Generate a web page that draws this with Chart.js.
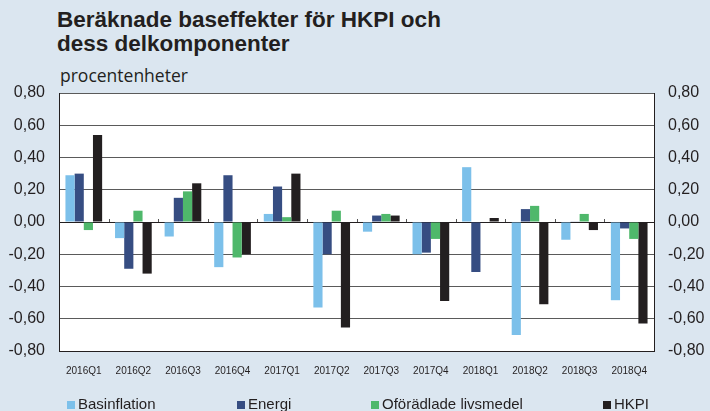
<!DOCTYPE html>
<html>
<head>
<meta charset="utf-8">
<script src="https://cdn.jsdelivr.net/npm/chart.js@4"></script>
<style>
  body { margin: 0; background: #dbe6f0; font-family: "Liberation Sans", Arial, sans-serif; }
  .wrap { position: relative; width: 710px; height: 411px; overflow: hidden; }
  .title { position: absolute; left: 57px; top: 8px; font-weight: bold; font-size: 22.5px; line-height: 24px; color: #231f20; white-space: nowrap; }
  .unit { position: absolute; left: 60px; top: 65px; font-family: "Open Sans", sans-serif; font-size: 17.5px; line-height: 20px; color: #231f20; }
  canvas { position: absolute; left: 0; top: 0; }
  .legend { position: absolute; top: 396px; left: 0; width: 710px; font-size: 15px; line-height: 15px; color: #231f20; }
  .legend span.item { position: absolute; top: 0; white-space: nowrap; }
  .legend i { display: inline-block; width: 8px; height: 8px; margin-right: 3px; vertical-align: baseline; }
</style>
</head>
<body>
<div class="wrap">
  <div class="title">Beräknade baseffekter för HKPI och<br>dess delkomponenter</div>
  <div class="unit">procentenheter</div>
  <canvas id="myChart" width="710" height="411"></canvas>
  <div class="legend" id="legend"></div>
</div>
<script>
const quarters = ["2016Q1", "2016Q2", "2016Q3", "2016Q4", "2017Q1", "2017Q2",
  "2017Q3", "2017Q4", "2018Q1", "2018Q2", "2018Q3", "2018Q4"];

const basinflation = [0.29, -0.10, -0.09, -0.28, 0.05, -0.53, -0.06, -0.20, 0.34, -0.70, -0.11, -0.485];
const energi = [0.30, -0.29, 0.15, 0.29, 0.22, -0.20, 0.04, -0.19, -0.31, 0.08, 0.004, -0.04];
const livsmedel = [-0.05, 0.07, 0.19, -0.22, 0.03, 0.07, 0.05, -0.105, 0.0, 0.10, 0.05, -0.105];
const hkpi = [0.54, -0.32, 0.24, -0.20, 0.30, -0.655, 0.04, -0.49, 0.025, -0.51, -0.05, -0.63];

const seriesNames = ["Basinflation", "Energi", "Oförädlade livsmedel", "HKPI"];
const seriesColors = ["#7cc0ea", "#364d82", "#4fb86b", "#231f20"];
const legendLeft = [67, 237, 371, 603];

const fmt = (v) => v.toFixed(2).replace(".", ",");

// liten tickmarkering vid kategorigränser på nollinjen
const zeroTicks = {
  id: "zeroTicks",
  afterDatasetsDraw(chart) {
    const x = chart.scales.x;
    const y0 = chart.scales.y.getPixelForValue(0);
    const ctx = chart.ctx;
    const step = (x.right - x.left) / quarters.length;
    ctx.save();
    ctx.strokeStyle = "#555";
    ctx.lineWidth = 1;
    ctx.beginPath();
    for (let i = 1; i < quarters.length; i++) {
      const px = Math.round(x.left + step * i) + 0.5;
      ctx.moveTo(px, y0 - 3);
      ctx.lineTo(px, y0);
    }
    ctx.stroke();
    ctx.restore();
  },
};

const whitePlot = {
  id: "whitePlot",
  beforeDraw(chart) {
    const a = chart.chartArea;
    chart.ctx.save();
    chart.ctx.fillStyle = "#ffffff";
    chart.ctx.fillRect(a.left, a.top, a.right - a.left, a.bottom - a.top);
    chart.ctx.restore();
  },
};

const data = {
  labels: quarters,
  datasets: [basinflation, energi, livsmedel, hkpi].map((vals, i) => ({
    label: seriesNames[i],
    data: vals,
    backgroundColor: seriesColors[i],
    borderWidth: 0,
    barPercentage: 1,
    categoryPercentage: 0.74,
  })),
};

const tickFont = { family: "'Liberation Sans', Arial, sans-serif", size: 16 };

const config = {
  type: "bar",
  data,
  options: {
    responsive: false,
    animation: false,
    layout: { padding: { top: 93, left: 0, right: 0, bottom: 0 } },
    plugins: { legend: { display: false }, tooltip: { enabled: false } },
    scales: {
      x: {
        grid: { display: false },
        border: { display: true, color: "#231f20", width: 1 },
        ticks: { font: { family: "'Liberation Sans', Arial, sans-serif", size: 10 }, color: "#231f20", padding: 6, maxRotation: 0, autoSkip: false },
        afterFit(scale) { scale.height = 60; },
      },
      y: {
        position: "left",
        min: -0.8,
        max: 0.8,
        ticks: { stepSize: 0.2, font: tickFont, color: "#231f20", padding: 14, callback: (v) => fmt(v) },
        grid: {
          color: (c) => (Math.abs(c.tick.value) < 1e-9 ? "#231f20" : "#5a5a5a"),
          drawTicks: false,
          lineWidth: 1,
        },
        border: { display: true, color: "#231f20", width: 1 },
        afterFit(scale) { scale.width = 59; },
      },
      y2: {
        position: "right",
        min: -0.8,
        max: 0.8,
        ticks: { stepSize: 0.2, font: tickFont, color: "#231f20", padding: 14, callback: (v) => fmt(v) },
        grid: { display: false, drawTicks: false },
        border: { display: true, color: "#231f20", width: 1 },
        afterFit(scale) { scale.width = 56; },
      },
    },
  },
  plugins: [whitePlot, zeroTicks],
};

const myChart = new Chart(document.getElementById("myChart"), config);

const legend = document.getElementById("legend");
seriesNames.forEach((name, i) => {
  const item = document.createElement("span");
  item.classList.add("item");
  item.style.left = legendLeft[i] + "px";
  item.innerHTML = '<i style="background:' + seriesColors[i] + '"></i>' + name;
  legend.appendChild(item);
});
</script>
</body>
</html>
